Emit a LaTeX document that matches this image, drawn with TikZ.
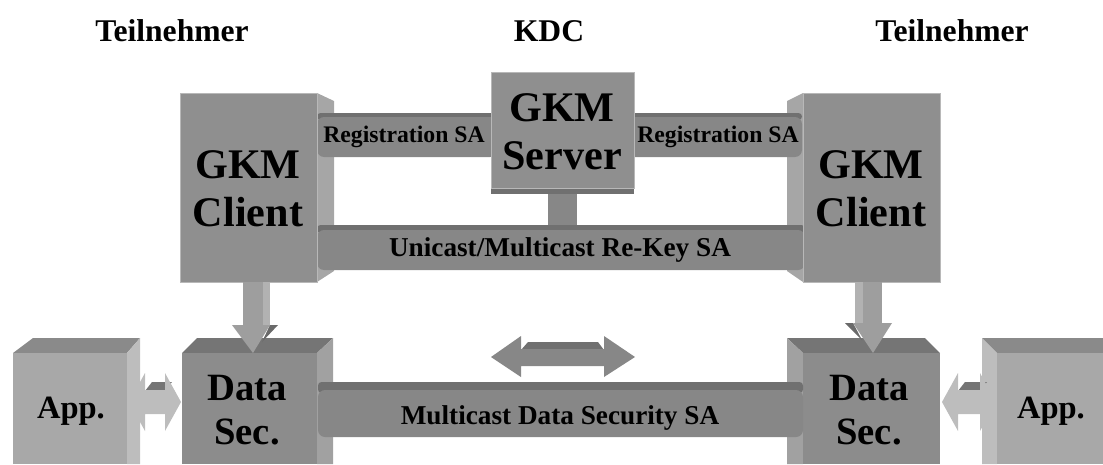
\documentclass[tikz,border=0pt]{standalone}
\usepackage{fontspec}
\setmainfont{Liberation Serif}

% grey shades of the blocks
\definecolor{frontgray}{gray}{0.56}
\definecolor{sidegray}{gray}{0.65}
\definecolor{edgegray}{gray}{0.72}
\definecolor{bargray}{gray}{0.53}
\definecolor{bartop}{gray}{0.44}
\definecolor{dsfront}{gray}{0.55}
\definecolor{dstop}{gray}{0.46}
\definecolor{dsside}{gray}{0.63}
\definecolor{appfront}{gray}{0.66}
\definecolor{apptop}{gray}{0.54}
\definecolor{appside}{gray}{0.74}
\definecolor{arrowfront}{gray}{0.62}
\definecolor{arrowside}{gray}{0.70}

\tikzset{
  head/.style={font=\fontsize{18}{20}\selectfont\bfseries},
  big/.style={font=\fontsize{24}{27.5}\selectfont\bfseries, align=center},
  mid/.style={font=\fontsize{22}{25}\selectfont\bfseries, align=center},
  small/.style={font=\fontsize{13.5}{15}\selectfont\bfseries},
  barlabel/.style={font=\fontsize{15.5}{17}\selectfont\bfseries},
  front/.style={fill=frontgray, draw=edgegray, line width=0.5pt},
  side/.style={fill=sidegray},
  barface/.style={fill=bargray, rounded corners=4pt},
  bartopface/.style={fill=bartop, rounded corners=2pt},
}

\begin{document}
\begin{tikzpicture}[x=0.02cm,y=-0.02cm]
\useasboundingbox (0,0) rectangle (1103,464);

% headings
\node[head] (tnL) at (172,31) {Teilnehmer};
\node[head] (kdc) at (549,31) {KDC};
\node[head] (tnR) at (952,31) {Teilnehmer};

% client side faces
\fill[side] (317,93) -- (334,101) -- (334,271) -- (317,282) -- cycle;
\fill[side] (803,93) -- (787,101) -- (787,271) -- (803,282) -- cycle;

% registration SAs
\fill[bartopface] (317,113) rectangle (497,120);
\fill[barface] (317,117) rectangle (497,157);
\node[small] (regL) at (404,137) {Registration SA};
\fill[bartopface] (628,113) rectangle (802,120);
\fill[barface] (628,117) rectangle (802,157);
\node[small] (regR) at (718,137) {Registration SA};

% re-key SA with stem up to the server
\fill[fill=bargray] (548,186) rectangle (577,232);
\fill[bartopface] (317,225) rectangle (805,233);
\fill[barface] (317,230) rectangle (805,270);
\node[barlabel] (rekey) at (560,250) {Unicast/Multicast Re-Key SA};

% GKM server
\fill[fill=bartop] (491,186) rectangle (634,194);
\filldraw[front] (491,72) rectangle (634,188);
\node[big] (srv) at (562,132) {GKM\\Server};

% GKM clients
\filldraw[front] (180,93) rectangle (317,282);
\node[big] (cliL) at (248,189) {GKM\\Client};
\filldraw[front] (803,93) rectangle (940,282);
\node[big] (cliR) at (871,189) {GKM\\Client};

% applications
\fill[fill=apptop] (13,353) -- (33,338) -- (140,338) -- (127,353) -- cycle;
\fill[fill=appside] (127,353) -- (140,338) -- (140,464) -- (127,464) -- cycle;
\fill[fill=appfront] (13,353) rectangle (127,464);
\node[head, font=\fontsize{18.5}{20}\selectfont\bfseries] (appL) at (71,411) {App.};
\fill[fill=apptop] (982,338) -- (1103,338) -- (1103,353) -- (997,353) -- cycle;
\fill[fill=appside] (982,338) -- (997,353) -- (997,464) -- (982,464) -- cycle;
\fill[fill=appfront] (997,353) rectangle (1103,464);
\node[head, font=\fontsize{18.5}{20}\selectfont\bfseries] (appR) at (1051,411) {App.};

% data security blocks
\fill[fill=dstop] (182,353) -- (197,338) -- (333,338) -- (317,353) -- cycle;
\fill[fill=dsside] (317,353) -- (333,338) -- (333,464) -- (317,464) -- cycle;
\fill[fill=dsfront] (182,353) rectangle (317,464);
\node[mid] (dsL) at (247,410) {Data\\Sec.};
\fill[fill=dstop] (787,338) -- (925,338) -- (940,353) -- (803,353) -- cycle;
\fill[fill=dsside] (787,338) -- (803,353) -- (803,464) -- (787,464) -- cycle;
\fill[fill=dsfront] (803,353) rectangle (940,464);
\node[mid] (dsR) at (869,410) {Data\\Sec.};

% multicast data SA
\fill[bartopface] (318,382) rectangle (803,393);
\fill[barface] (318,390) rectangle (803,437);
\node[barlabel] (mcast) at (560,418) {Multicast Data Security SA};

% key arrows from the clients down to the data blocks
\fill[fill=arrowside] (263,282) rectangle (270,326);
\fill[fill=arrowfront] (243,282) rectangle (263,326);
\fill[fill=dstop!90!black] (270,325) -- (278,325) -- (262,342) -- cycle;
\fill[fill=arrowfront] (232,325) -- (270,325) -- (253,353) -- cycle;
\fill[fill=arrowside] (855,282) rectangle (863,324);
\fill[fill=arrowfront] (863,282) rectangle (882,324);
\fill[fill=dstop!90!black] (845,323) -- (853,323) -- (862,340) -- cycle;
\fill[fill=arrowfront] (853,323) -- (892,323) -- (873,353) -- cycle;

% double arrows between data blocks and applications
\foreach \xa/\xb in {129/181, 942/996} {
  \fill[fill=dstop] (\xa+16,391) -- (\xa+23,382) -- (\xb-9,382) -- (\xb-16,391) -- cycle;
  \fill[fill=appside] (\xa,402) -- (\xa+16,373) -- (\xa+16,390) -- (\xb-16,390)
    -- (\xb-16,373) -- (\xb,402) -- (\xb-16,431) -- (\xb-16,414)
    -- (\xa+16,414) -- (\xa+16,431) -- cycle;
}

% multicast between the groups
\fill[fill=bartop] (521,350) -- (528,342) -- (598,342) -- (604,350) -- cycle;
\fill[fill=bargray] (491,357) -- (521,336) -- (521,349) -- (604,349) -- (604,336)
  -- (635,357) -- (604,377) -- (604,366) -- (521,366) -- (521,377) -- cycle;
\end{tikzpicture}
\end{document}
